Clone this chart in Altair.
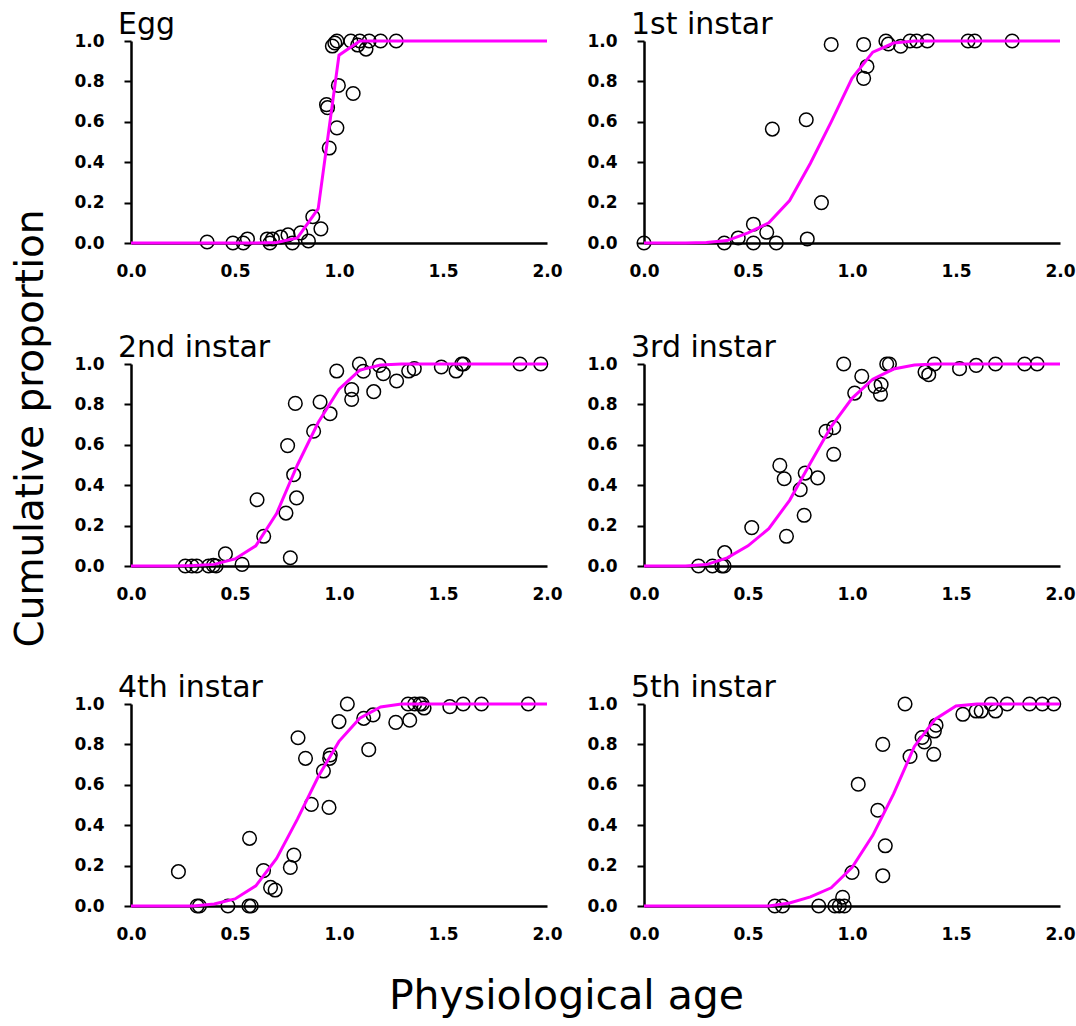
import altair as alt
import pandas as pd

# ---------------- data ----------------
X_TICKS = [0.0, 0.5, 1.0, 1.5, 2.0]
Y_TICKS = [0.0, 0.2, 0.4, 0.6, 0.8, 1.0]

CURVE_X = [0.0, 0.1, 0.2, 0.3, 0.4, 0.5, 0.6, 0.7, 0.8, 0.9, 1.0,
           1.1, 1.2, 1.3, 1.4, 1.5, 1.6, 1.7, 1.8, 1.9, 2.0]

CURVE_EGG = [0, 0, 0, 0, 0, 0, 0, 0.003, 0.025, 0.17, 0.93,
             1.0, 1.0, 1.0, 1.0, 1.0, 1.0, 1.0, 1.0, 1.0, 1.0]
CURVE_1ST = [0, 0, 0, 0.002, 0.012, 0.05, 0.1, 0.21, 0.395, 0.6, 0.815,
             0.945, 0.99, 1.0, 1.0, 1.0, 1.0, 1.0, 1.0, 1.0, 1.0]
CURVE_2ND = [0, 0, 0, 0.002, 0.008, 0.035, 0.1, 0.26, 0.5, 0.71, 0.875,
             0.97, 0.995, 1.0, 1.0, 1.0, 1.0, 1.0, 1.0, 1.0, 1.0]
CURVE_3RD = [0, 0, 0, 0.007, 0.04, 0.1, 0.185, 0.325, 0.51, 0.69, 0.83,
             0.925, 0.975, 0.995, 1.0, 1.0, 1.0, 1.0, 1.0, 1.0, 1.0]
CURVE_4TH = [0, 0, 0, 0, 0.01, 0.035, 0.1, 0.235, 0.43, 0.64, 0.815,
             0.93, 0.985, 1.0, 1.0, 1.0, 1.0, 1.0, 1.0, 1.0, 1.0]
CURVE_5TH = [0, 0, 0, 0, 0, 0, 0, 0.015, 0.045, 0.09, 0.19,
             0.35, 0.555, 0.79, 0.925, 0.99, 1.0, 1.0, 1.0, 1.0, 1.0]

EGG_X = [0.366, 0.49, 0.54, 0.56, 0.655, 0.668, 0.68, 0.72, 0.755, 0.776,
         0.816, 0.853, 0.874, 0.913, 0.953, 0.94, 0.945, 0.99, 0.997, 1.068,
         0.968, 0.98, 0.99, 1.057, 1.09, 1.10, 1.13, 1.145, 1.20, 1.275]
EGG_Y = [0.005, 0.0, 0.0, 0.02, 0.02, 0.0, 0.02, 0.03, 0.04, 0.0,
         0.05, 0.01, 0.13, 0.07, 0.47, 0.685, 0.67, 0.57, 0.78, 0.74,
         0.975, 0.99, 1.0, 1.0, 0.98, 1.0, 0.96, 1.0, 1.0, 1.0]

I1_X = [0.0, 0.386, 0.453, 0.526, 0.526, 0.59, 0.636, 0.617, 0.78, 0.785,
        0.853, 0.90, 1.056, 1.072, 1.056, 1.163, 1.175, 1.234, 1.279, 1.311,
        1.362, 1.558, 1.59, 1.77]
I1_Y = [0.0, 0.0, 0.025, 0.0, 0.093, 0.053, 0.0, 0.564, 0.61, 0.02,
        0.2, 0.983, 0.983, 0.874, 0.815, 1.0, 0.985, 0.974, 1.0, 1.0,
        1.0, 1.0, 1.0, 1.0]

I2_X = [0.261, 0.293, 0.316, 0.373, 0.396, 0.409, 0.454, 0.534, 0.606, 0.638,
        0.745, 0.753, 0.766, 0.782, 0.796, 0.79, 0.878, 0.909, 0.957, 0.989,
        1.061, 1.061, 1.098, 1.117, 1.167, 1.194, 1.213, 1.277, 1.335, 1.362,
        1.492, 1.563, 1.59, 1.599, 1.87, 1.97]
I2_Y = [0.0, 0.0, 0.0, 0.0, 0.003, 0.0, 0.06, 0.008, 0.328, 0.147,
        0.262, 0.596, 0.041, 0.452, 0.337, 0.805, 0.667, 0.812, 0.754, 0.965,
        0.873, 0.825, 1.0, 0.964, 0.863, 0.993, 0.952, 0.916, 0.965, 0.977,
        0.985, 0.965, 1.0, 1.0, 1.0, 1.0]

I3_X = [0.262, 0.329, 0.374, 0.385, 0.388, 0.518, 0.653, 0.674, 0.685, 0.751,
        0.77, 0.775, 0.835, 0.875, 0.912, 0.912, 0.96, 1.013, 1.047, 1.111,
        1.14, 1.137, 1.167, 1.18, 1.351, 1.369, 1.396, 1.517, 1.597, 1.69,
        1.83, 1.89]
I3_Y = [0.0, 0.0, 0.0, 0.0, 0.066, 0.19, 0.498, 0.432, 0.147, 0.378,
        0.251, 0.46, 0.436, 0.667, 0.685, 0.553, 1.0, 0.856, 0.939, 0.889,
        0.898, 0.85, 1.0, 1.0, 0.96, 0.947, 1.0, 0.977, 0.993, 1.0,
        1.0, 1.0]

I4_X = [0.228, 0.318, 0.329, 0.466, 0.567, 0.578, 0.57, 0.637, 0.671, 0.693,
        0.766, 0.783, 0.803, 0.839, 0.867, 0.925, 0.952, 0.955, 0.958, 1.0,
        1.04, 1.119, 1.143, 1.164, 1.273, 1.34, 1.332, 1.364, 1.388, 1.40,
        1.409, 1.533, 1.597, 1.685, 1.91]
I4_Y = [0.17, 0.0, 0.0, 0.0, 0.0, 0.0, 0.335, 0.175, 0.092, 0.079,
        0.191, 0.252, 0.833, 0.731, 0.503, 0.668, 0.488, 0.731, 0.748, 0.913,
        1.0, 0.929, 0.774, 0.946, 0.909, 0.92, 1.0, 1.0, 1.0, 1.0,
        0.98, 0.987, 1.0, 1.0, 1.0]

I5_X = [0.629, 0.666, 0.84, 0.918, 0.939, 0.955, 0.963, 1.0, 1.03, 1.124,
        1.148, 1.148, 1.16, 1.255, 1.279, 1.337, 1.348, 1.396, 1.404, 1.393,
        1.533, 1.597, 1.621, 1.669, 1.69, 1.746, 1.854, 1.915, 1.97]
I5_Y = [0.0, 0.0, 0.0, 0.0, 0.0, 0.043, 0.0, 0.166, 0.603, 0.474,
        0.8, 0.15, 0.298, 1.0, 0.74, 0.834, 0.812, 0.866, 0.895, 0.751,
        0.949, 0.965, 0.965, 1.0, 0.965, 1.0, 1.0, 1.0, 1.0]

STAGES = ["Egg", "1st instar", "2nd instar", "3rd instar", "4th instar", "5th instar"]
POINTS_X = [EGG_X, I1_X, I2_X, I3_X, I4_X, I5_X]
POINTS_Y = [EGG_Y, I1_Y, I2_Y, I3_Y, I4_Y, I5_Y]
CURVES = [CURVE_EGG, CURVE_1ST, CURVE_2ND, CURVE_3RD, CURVE_4TH, CURVE_5TH]

# ---------------- style ----------------
W, H = 416, 202
LABEL_FONT = "DejaVu Sans"


def panel(name, px, py, cy):
    pts = pd.DataFrame({"x": px, "y": py})
    cur = pd.DataFrame({"x": CURVE_X, "y": cy})
    ttl = pd.DataFrame({"t": [name]})
    xs = alt.Scale(domain=[0, 2], nice=False, zero=False)
    ys = alt.Scale(domain=[0, 1], nice=False, zero=False)
    xax = alt.Axis(values=X_TICKS, format=".1f", title=None, grid=False,
                   ticks=False, tickSize=0, labelPadding=20,
                   labelFont=LABEL_FONT, labelFontWeight="bold", labelFontSize=17,
                   labelColor="black", domainColor="black", domainWidth=2.5,
                   labelFlush=False)
    yax = alt.Axis(values=Y_TICKS, format=".1f", title=None, grid=False,
                   ticks=True, tickSize=7, tickWidth=2, tickColor="black",
                   labelPadding=20, labelFont=LABEL_FONT, labelFontWeight="bold",
                   labelFontSize=17, labelColor="black", domainColor="black",
                   domainWidth=2.5, labelFlush=False)
    points = alt.Chart(pts).mark_point(
        shape="circle", filled=False, color="black", size=185, strokeWidth=1.5, opacity=1
    ).encode(x=alt.X("x:Q", scale=xs, axis=xax), y=alt.Y("y:Q", scale=ys, axis=yax))
    line = alt.Chart(cur).mark_line(color="#FF00FF", strokeWidth=3).encode(
        x=alt.X("x:Q", scale=xs), y=alt.Y("y:Q", scale=ys)
    )
    title = alt.Chart(ttl).mark_text(
        align="left", baseline="alphabetic", fontSize=30, font=LABEL_FONT, color="black"
    ).encode(text="t:N", x=alt.value(-13), y=alt.value(-7))
    return alt.layer(points, line, title).properties(width=W, height=H)


panels = [panel(STAGES[i], POINTS_X[i], POINTS_Y[i], CURVES[i]) for i in range(6)]

S_H = 23
row1 = alt.hconcat(panels[0], panels[1], spacing=S_H)
row2 = alt.hconcat(panels[2], panels[3], spacing=S_H)
row3 = alt.hconcat(panels[4], panels[5], spacing=S_H).properties(
    title=alt.TitleParams("Physiological age", orient="bottom", anchor="middle",
                          fontSize=41, font=LABEL_FONT, fontWeight="normal",
                          color="black", offset=35, dx=-8)
)
lower = alt.vconcat(row2, row3, spacing=71)
chart = alt.vconcat(row1, lower, spacing=54).properties(
    title=alt.TitleParams("Cumulative proportion", orient="left", anchor="middle",
                          fontSize=39, font=LABEL_FONT, fontWeight="normal",
                          color="black", offset=23, dx=85),
    padding={"left": 11, "top": 10, "right": 0, "bottom": 4},
).configure_view(strokeWidth=0)

chart.save("out.html", embed_options={"renderer": "svg", "actions": False})
